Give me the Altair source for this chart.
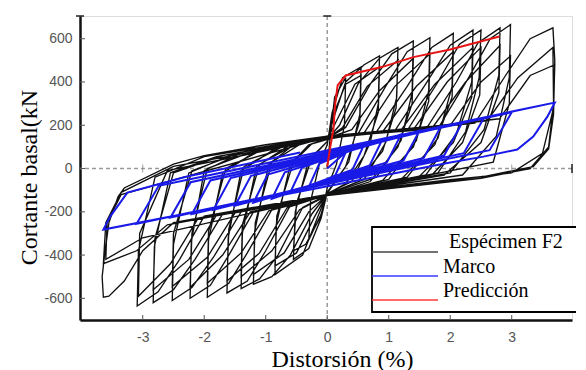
import altair as alt
import pandas as pd

# ---------------- data ----------------
x_ticks = [-3, -2, -1, 0, 1, 2, 3]
y_ticks = [-600, -400, -200, 0, 200, 400, 600]
X_DOMAIN = [-4.02, 3.98]
Y_DOMAIN = [-700, 705]

legend_labels = ["\u00a0Espécimen F2", "Marco", "Predicción"]

# Specimen F2 hysteresis path (x = drift %, y = base shear kN), cycle by cycle
spec_c1 = [(0, 0), (0.05, 150), (0.12, 330), (0.3, 420), (0.28, 200), (0.15, 20), (0, -90),
           (-0.08, -200), (-0.3, -330), (-0.27, -150), (-0.12, 30), (0, 110)]
spec_c2 = [(0.08, 260), (0.25, 420), (0.55, 470), (0.53, 250), (0.35, 30), (0, -110),
           (-0.1, -230), (-0.3, -370), (-0.55, -420), (-0.52, -200), (-0.3, 40), (0, 125)]
spec_c2b = [(0.1, 250), (0.3, 390), (0.55, 430), (0.53, 220), (0.3, 10), (0, -115), (-0.12, -230),
            (-0.35, -350), (-0.55, -380), (-0.5, -160), (-0.25, 50), (0, 125)]
spec_c3 = [(0.1, 230), (0.3, 400), (0.6, 480), (0.85, 520), (0.83, 300), (0.7, 120), (0.4, -60),
           (0, -115), (-0.15, -220), (-0.4, -400), (-0.85, -490), (-0.83, -260), (-0.6, 20),
           (-0.3, 110), (0, 135)]
spec_c3b = [(0.15, 220), (0.45, 390), (0.85, 470), (0.83, 260), (0.6, 60), (0.3, -70), (0, -118),
            (-0.2, -220), (-0.5, -390), (-0.85, -450), (-0.82, -220), (-0.55, 30), (-0.25, 115), (0, 135)]
spec_c4 = [(0.2, 200), (0.5, 390), (0.85, 510), (1.15, 560), (1.13, 330), (0.95, 120), (0.6, -50),
           (0, -118), (-0.25, -210), (-0.6, -400), (-0.9, -500), (-1.2, -535), (-1.18, -290),
           (-0.95, 20), (-0.5, 120), (0, 140)]
spec_c4b = [(0.25, 190), (0.65, 380), (1.15, 500), (1.12, 280), (0.9, 80), (0.5, -60), (0, -120),
            (-0.3, -200), (-0.7, -390), (-1.2, -490), (-1.17, -250), (-0.9, 30), (-0.4, 120), (0, 140)]
spec_c5 = [(0.3, 190), (0.7, 390), (1.05, 530), (1.4, 590), (1.38, 350), (1.2, 130), (0.8, -40),
           (0, -120), (-0.4, -180), (-0.8, -400), (-1.1, -510), (-1.4, -555), (-1.38, -300),
           (-1.15, 10), (-0.6, 110), (0, 140)]
spec_c5b = [(0.4, 180), (0.85, 360), (1.4, 510), (1.38, 300), (1.15, 100), (0.7, -60), (0, -125),
            (-0.45, -190), (-0.9, -380), (-1.4, -500), (-1.38, -260), (-1.1, 20), (-0.5, 115), (0, 135)]
spec_c6 = [(0.5, 160), (0.95, 380), (1.3, 540), (1.67, 605), (1.65, 360), (1.45, 130), (1.0, -50),
           (0, -120), (-0.6, -170), (-1.0, -380), (-1.3, -520), (-1.63, -575), (-1.61, -320),
           (-1.4, -10), (-0.8, 100), (0, 145)]
spec_c6b = [(0.6, 165), (1.1, 380), (1.67, 530), (1.65, 310), (1.4, 100), (0.9, -55), (0, -122),
            (-0.65, -180), (-1.1, -390), (-1.63, -520), (-1.6, -280), (-1.35, 10), (-0.7, 105), (0, 145)]
spec_c7 = [(0.8, 170), (1.3, 380), (1.7, 560), (2.05, 625), (2.03, 380), (1.8, 140), (1.3, -40),
           (0, -120), (-0.9, -190), (-1.3, -390), (-1.6, -530), (-1.95, -595), (-1.93, -330),
           (-1.7, -20), (-1.1, 90), (0, 145)]
spec_c7b = [(0.9, 170), (1.45, 380), (2.05, 540), (2.03, 330), (1.75, 110), (1.2, -50), (0, -125),
            (-0.95, -195), (-1.4, -390), (-1.95, -530), (-1.93, -290), (-1.65, 0), (-1.0, 95), (0, 140)]
spec_c8 = [(1.1, 175), (1.6, 390), (2.0, 570), (2.37, 640), (2.35, 400), (2.1, 160), (1.6, -30),
           (0, -120), (-1.2, -200), (-1.6, -400), (-1.9, -540), (-2.23, -600), (-2.21, -340),
           (-2.0, -10), (-1.3, 85), (0, 145)]
spec_c8b = [(1.2, 178), (1.75, 390), (2.37, 560), (2.35, 330), (2.05, 120), (1.5, -35), (0, -123),
            (-1.25, -200), (-1.7, -400), (-2.23, -550), (-2.2, -300), (-1.95, 0), (-1.2, 80), (0, 145)]
spec_c9 = [(1.3, 175), (1.8, 400), (2.15, 575), (2.5, 640), (2.47, 420), (2.25, 170), (1.8, -20),
           (0, -120), (-1.4, -200), (-1.85, -410), (-2.2, -550), (-2.52, -610), (-2.5, -350),
           (-2.25, -20), (-1.5, 70), (0, 145)]
spec_c9b = [(1.4, 180), (1.95, 400), (2.5, 560), (2.48, 340), (2.2, 120), (1.7, -30), (0, -125),
            (-1.5, -205), (-1.95, -410), (-2.52, -545), (-2.5, -300), (-2.2, -10), (-1.4, 75), (0, 145)]
spec_c10 = [(1.6, 180), (2.1, 400), (2.45, 580), (2.81, 650), (2.79, 430), (2.55, 180), (2.0, -20),
            (0, -120), (-1.7, -210), (-2.15, -420), (-2.5, -560), (-2.83, -620), (-2.81, -360),
            (-2.55, -20), (-1.8, 55), (0, 150)]
spec_c10b = [(1.7, 185), (2.25, 400), (2.81, 570), (2.79, 350), (2.5, 120), (1.9, -30), (0, -123),
             (-1.8, -215), (-2.25, -420), (-2.83, -560), (-2.8, -320), (-2.5, -20), (-1.7, 60), (0, 148)]
spec_c11 = [(1.8, 185), (2.3, 420), (2.65, 600), (2.98, 665), (2.96, 420), (2.75, 150), (2.2, -30),
            (0, -120), (-2.0, -220), (-2.4, -420), (-2.75, -570), (-3.09, -635), (-3.07, -380),
            (-2.8, -40), (-2.0, 55), (0, 150)]
spec_c11b = [(2.0, 200), (2.5, 400), (2.98, 520), (2.96, 300), (2.7, 30), (0, -125), (-2.1, -230),
             (-2.55, -440), (-3.07, -590), (-3.05, -300), (-2.6, -10), (0, 140)]
spec_c12 = [(2.4, 210), (2.9, 430), (3.3, 600), (3.67, 650), (3.7, 500), (3.68, 250), (3.6, 90),
            (3.35, 9), (2.54, -37), (2.0, -51), (1.0, -85), (0, -120), (-2.5, -250), (-3.0, -380),
            (-3.3, -520), (-3.55, -590), (-3.64, -595), (-3.66, -500), (-3.62, -400), (-3.55, -250),
            (-3.4, -130), (-3.3, -90), (-2.5, 20), (-2.0, 60), (-1.0, 110), (0, 150)]
spec_c12b = [(2.6, 220), (3.1, 420), (3.67, 560), (3.68, 300), (3.6, 100), (3.3, 0), (2.5, -45),
             (0, -125), (-2.6, -260), (-3.1, -380), (-3.64, -440), (-3.6, -250), (-3.35, -110),
             (-2.5, 10), (0, 140)]
spec_c12c = [(2.8, 230), (3.3, 430), (3.7, 480), (3.68, 280), (3.5, 70), (3.0, -20), (0, -125),
             (-3.0, -320), (-3.6, -420), (-3.58, -250), (-3.35, -120), (0, 145)]

specimen = (spec_c1 + spec_c2 + spec_c2b + spec_c3 + spec_c3b + spec_c4 + spec_c4b + spec_c5 +
            spec_c5b + spec_c6 + spec_c6b + spec_c7 + spec_c7b + spec_c8 + spec_c8b + spec_c9 +
            spec_c9b + spec_c10 + spec_c10b + spec_c11 + spec_c11b + spec_c12 + spec_c12b + spec_c12c)

# Marco (frame) hysteresis path
marco = [(0, 0), (0.3, 75), (0.13, -32), (-0.3, -85), (-0.13, 22), (0.6, 110), (0.41, -5),
         (-0.6, -110), (-0.41, 5), (0.9, 137), (0.69, 14), (-0.9, -140), (-0.69, -17),
         (1.2, 158), (0.97, 28), (-1.2, -158), (-0.97, -28), (1.5, 175), (1.24, 37),
         (-1.5, -172), (-1.24, -34), (1.85, 195), (1.57, 49), (-1.85, -190), (-1.57, -44),
         (2.2, 215), (1.9, 60), (-2.2, -210), (-1.9, -55), (2.55, 235), (2.22, 71),
         (-2.55, -227), (-2.22, -63), (3.0, 260), (2.64, 85), (-3.1, -255), (-2.74, -80),
         (3.7, 305), (3.58, 240), (3.35, 148), (3.09, 88), (2.54, 55), (2.0, 28),
         (-3.64, -282), (-3.53, -222), (-3.25, -111), (-2.28, -37), (-0.44, 74)]

# Predicción (prediction) curve
prediccion = [(0, 10), (0.05, 100), (0.1, 180), (0.13, 300), (0.17, 385), (0.3, 430),
              (0.9, 470), (1.4, 515), (2.0, 550), (2.8, 610)]


def path_df(pts):
    return pd.DataFrame({"x": [p[0] for p in pts], "y": [p[1] for p in pts],
                         "i": list(range(len(pts)))})


W, H = 492, 304
xs = alt.Scale(domain=X_DOMAIN, nice=False, zero=False)
ys = alt.Scale(domain=Y_DOMAIN, nice=False, zero=False)

xaxis = alt.Axis(values=x_ticks, title="Distorsión (%)", grid=False, ticks=False, tickSize=0,
                 labelPadding=10, labelFont="Liberation Sans", labelFontSize=14, labelColor="#555555",
                 labelExpr="'' + datum.value",
                 domainColor="#111111", domainWidth=2.5,
                 titleFont="Liberation Serif", titleFontSize=24, titleFontWeight="normal",
                 titleColor="#000000", titleX=262, titleY=46, titleAlign="center",
                 titleBaseline="alphabetic", titleAnchor="start")
yaxis = alt.Axis(values=y_ticks, title="Cortante basal(kN", grid=False, ticks=False, tickSize=0,
                 labelPadding=8, labelFont="Liberation Sans", labelFontSize=14, labelColor="#555555",
                 labelExpr="'' + datum.value",
                 domainColor="#111111", domainWidth=2.5,
                 titleFont="Liberation Serif", titleFontSize=24, titleFontWeight="normal",
                 titleColor="#000000", titleX=-44, titleY=161, titleAngle=270, titleAlign="center",
                 titleBaseline="alphabetic", titleAnchor="start")


def X(field):
    return alt.X(field, scale=xs, axis=xaxis)


def Y(field):
    return alt.Y(field, scale=ys, axis=yaxis)


zero_df = pd.DataFrame({"v": [0]})
vzero = alt.Chart(zero_df).mark_rule(color="#9a9a9a", strokeDash=[4, 3], strokeWidth=1.5).encode(
    x=X("v:Q"))
hzero = alt.Chart(zero_df).mark_rule(color="#9a9a9a", strokeDash=[4, 3], strokeWidth=1.5).encode(
    y=Y("v:Q"))

spec_line = alt.Chart(path_df(specimen)).mark_line(color="#111111", strokeWidth=1.35).encode(
    x=X("x:Q"), y=Y("y:Q"), order="i:Q")
marco_line = alt.Chart(path_df(marco)).mark_line(color="#1a1ae8", strokeWidth=2).encode(
    x=X("x:Q"), y=Y("y:Q"), order="i:Q")
pred_line = alt.Chart(path_df(prediccion)).mark_line(color="#e81414", strokeWidth=2).encode(
    x=X("x:Q"), y=Y("y:Q"), order="i:Q")

# inward tick marks
xt = alt.Chart(pd.DataFrame({"t": x_ticks})).mark_rule(color="#555555", strokeWidth=1).encode(
    x=X("t:Q"), y=alt.value(H - 5), y2=alt.value(H))
yt = alt.Chart(pd.DataFrame({"t": y_ticks})).mark_rule(color="#555555", strokeWidth=1).encode(
    y=Y("t:Q"), x=alt.value(0), x2=alt.value(5))

# small marks on the dashed zero line and end caps
zt = alt.Chart(pd.DataFrame({"x": [x_ticks[0], x_ticks[-1]], "y": [0, 0]})).mark_tick(
    orient="vertical", size=8, thickness=1, color="#777777").encode(x=X("x:Q"), y=Y("y:Q"))
capr = alt.Chart(pd.DataFrame({"x": [X_DOMAIN[1]], "y": [0]})).mark_tick(
    orient="vertical", size=9, thickness=2, color="#111111").encode(x=X("x:Q"), y=Y("y:Q"))
capt = alt.Chart(pd.DataFrame({"x": [0, X_DOMAIN[0]], "y": [Y_DOMAIN[1], Y_DOMAIN[1]]})).mark_tick(
    orient="horizontal", size=8, thickness=2, color="#111111").encode(x=X("x:Q"), y=Y("y:Q"))

# legend box (drawn as in the original figure)
one = pd.DataFrame({"a": [0]})
lbox = alt.Chart(one).mark_rect(fill="white", stroke="#000000", strokeWidth=1.8).encode(
    x=alt.value(292), x2=alt.value(560), y=alt.value(211), y2=alt.value(296))
leg_cols = ["#444444", "#3a3aff", "#ff3a3a"]
leg_y = [236, 260, 284]
leg_ty = [232, 257, 281]
leg_tx = [369, 363, 363]
leg_layers = []
for lab, col, ly, ty, tx in zip(legend_labels, leg_cols, leg_y, leg_ty, leg_tx):
    leg_layers.append(alt.Chart(one).mark_rule(color=col, strokeWidth=1.3).encode(
        x=alt.value(292), x2=alt.value(358), y=alt.value(ly)))
    leg_layers.append(alt.Chart(one).mark_text(align="left", baseline="alphabetic",
                                               font="Liberation Serif", fontSize=20,
                                               color="#000000").encode(
        x=alt.value(tx), y=alt.value(ty), text=alt.value(lab)))

chart = alt.layer(vzero, hzero, spec_line, marco_line, pred_line, xt, yt, zt, capr, capt,
                  lbox, *leg_layers).properties(
    width=W, height=H,
    autosize=alt.AutoSizeParams(type="none"),
    padding={"left": 72, "top": 8, "right": 4, "bottom": 50},
).configure_view(strokeWidth=0).configure(background="white")

chart.save("out.html", embed_options={"renderer": "svg", "actions": False})
